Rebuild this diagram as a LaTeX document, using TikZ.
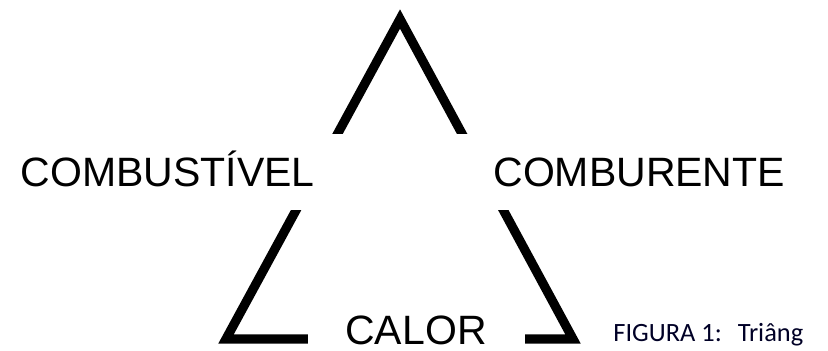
\documentclass[tikz,border=0pt]{standalone}
\usepackage{fontspec}
\setmainfont{Liberation Sans}
\newfontfamily\figfont{Carlito}

\begin{document}
\begin{tikzpicture}[x=0.5pt,y=-0.5pt,
		side/.style={draw=black,line width=4.6pt,line join=miter},
		lbl/.style={fill=white,inner sep=0pt,text height=14.5pt,text depth=0pt,
			font=\fontsize{20.5}{24}\selectfont},
		fig/.style={anchor=base west,inner sep=0pt,text=black!85!blue,
			font=\figfont\fontsize{13.2}{15}\selectfont}]
	\useasboundingbox (0,0) rectangle (828,351);
	% triangle
	\coordinate (top) at (400,19);
	\coordinate (bl) at (226,339);
	\coordinate (br) at (573,339);
	\draw[side] (top) -- (br) -- (bl) -- cycle;
	% labels (white boxes open the sides)
	\node[lbl,anchor=east,minimum height=38pt,inner xsep=15pt] (fuel) at (345,172) {COMBUSTÍVEL};
	\node[lbl,anchor=west,minimum height=38pt,inner xsep=19pt] (oxid) at (455,172) {COMBURENTE};
	\node[lbl,minimum width=108.5pt,minimum height=20pt] (heat) at (416,330) {CALOR};
	\node[fig] (fig1) at (613,342) {FIGURA 1:\hspace{4pt} Triâng};
\end{tikzpicture}
\end{document}
